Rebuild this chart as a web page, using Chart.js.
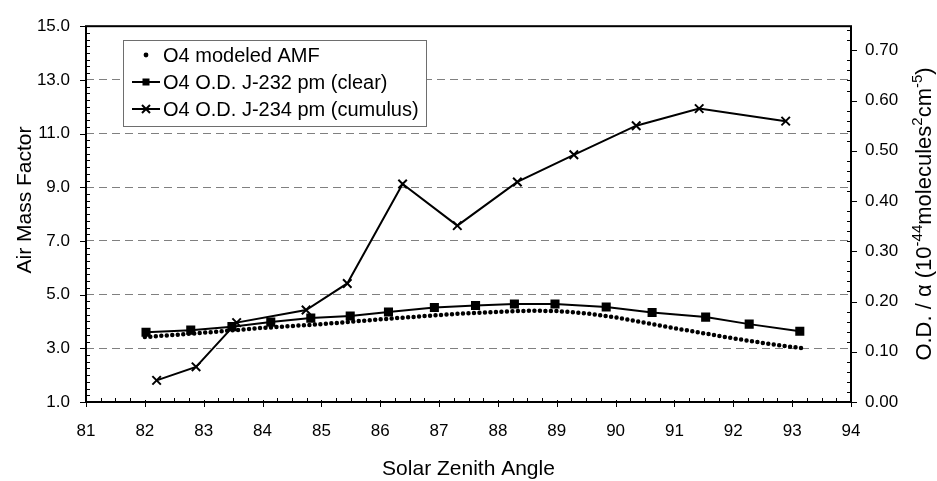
<!DOCTYPE html>
<html>
<head>
<meta charset="utf-8">
<script src="https://cdn.jsdelivr.net/npm/chart.js@4.4.1/dist/chart.umd.min.js"></script>
<style>
  html, body { margin: 0; padding: 0; background: #fff; }
  #wrap { width: 937px; height: 481px; }
</style>
</head>
<body>
<div id="wrap"><canvas id="amfChart" width="937" height="481"></canvas></div>
<script>
/* ===== O4 AMF vs Solar Zenith Angle ===== */

const FONT = "'Liberation Sans', Arial, sans-serif";

// O4 modeled AMF (left axis)
const szaModel = [82.0, 82.5, 83.0, 83.5, 84.0, 84.5, 85.0, 85.5, 86.0, 86.5, 87.0, 87.5,
                  88.0, 88.5, 89.0, 89.5, 90.0, 90.5, 91.0, 91.5, 92.0, 92.5, 93.0, 93.2];
const amfModel = [3.42, 3.50, 3.58, 3.67, 3.76, 3.83, 3.90, 3.99, 4.08, 4.16, 4.24, 4.31,
                  4.36, 4.40, 4.39, 4.30, 4.15, 3.95, 3.75, 3.56, 3.37, 3.20, 3.05, 3.00];

// O4 O.D. J-232 pm (clear), right axis
const szaClear = [82.02, 82.78, 83.48, 84.14, 84.82, 85.49, 86.14, 86.92,
                  87.62, 88.28, 88.97, 89.84, 90.62, 91.53, 92.27, 93.13];
const odClear = [0.139, 0.143, 0.150, 0.159, 0.167, 0.171, 0.179, 0.188,
                 0.192, 0.195, 0.195, 0.189, 0.178, 0.169, 0.155, 0.141];

// O4 O.D. J-234 pm (cumulus), right axis
const szaCumulus = [82.20, 82.87, 83.56, 84.74, 85.44, 86.38, 87.31, 88.33, 89.29, 90.35, 91.42, 92.89];
const odCumulus = [0.043, 0.070, 0.158, 0.183, 0.236, 0.434, 0.351, 0.438, 0.492, 0.550, 0.584, 0.559];

// tick labels
const szaTicks = [81, 82, 83, 84, 85, 86, 87, 88, 89, 90, 91, 92, 93, 94];
const amfTicks = [1, 3, 5, 7, 9, 11, 13, 15];
const odTicks = [0, 0.1, 0.2, 0.3, 0.4, 0.5, 0.6, 0.7];

const legendLabels = ['O4 modeled AMF', 'O4 O.D. J-232 pm (clear)', 'O4 O.D. J-234 pm (cumulus)'];

function pts(xs, ys) {
  return xs.map((x, i) => ({ x: x, y: ys[i] }));
}

function fixTicks(list) {
  return scale => { scale.ticks = list.map(v => ({ value: v })); };
}

// minor / major tick marks and the plot frame
const axisDecor = {
  id: 'axisDecor',
  afterDatasetsDraw(chart) {
    const { ctx, chartArea: a, scales } = chart;
    ctx.save();
    ctx.strokeStyle = '#000';
    ctx.lineWidth = 1;
    ctx.beginPath();
    for (let i = 0; i <= 52; i++) {
      const px = Math.round(scales.x.getPixelForValue(81 + i * 0.25)) + 0.5;
      if (i % 4 === 0) { ctx.moveTo(px, a.bottom - 2); ctx.lineTo(px, a.bottom + 5); }
      else { ctx.moveTo(px, a.bottom - 4); ctx.lineTo(px, a.bottom); }
    }
    for (let i = 0; i <= 56; i++) {
      const py = Math.round(scales.y.getPixelForValue(1 + i * 0.25)) + 0.5;
      if (i % 8 === 0) { ctx.moveTo(a.left - 6, py); ctx.lineTo(a.left, py); }
      else { ctx.moveTo(a.left, py); ctx.lineTo(a.left + 4, py); }
    }
    for (let i = 0; i <= 37; i++) {
      const py = Math.round(scales.y2.getPixelForValue(i * 0.02)) + 0.5;
      if (i % 5 === 0) { ctx.moveTo(a.right, py); ctx.lineTo(a.right + 6, py); }
      else { ctx.moveTo(a.right - 4, py); ctx.lineTo(a.right, py); }
    }
    ctx.stroke();
    ctx.lineWidth = 2;
    ctx.strokeRect(a.left, a.top, a.right - a.left, a.bottom - a.top);
    ctx.restore();
  }
};

// axis titles (right one needs superscripts)
const axisTitles = {
  id: 'axisTitles',
  afterDraw(chart) {
    const { ctx, chartArea: a } = chart;
    ctx.save();
    ctx.fillStyle = '#000';
    ctx.textBaseline = 'alphabetic';

    ctx.font = '21px ' + FONT;
    ctx.textAlign = 'center';
    ctx.fillText('Solar Zenith Angle', (a.left + a.right) / 2, 475);

    ctx.save();
    ctx.translate(31, 200);
    ctx.rotate(-Math.PI / 2);
    ctx.fillText('Air Mass Factor', 0, 0);
    ctx.restore();

    const parts = [
      ['O.D. / \u03b1 (10', false], ['-44', true], ['molecules', false],
      ['2', true], ['cm', false], ['-5', true], [')', false]
    ];
    const big = '22px ' + FONT, small = '15px ' + FONT;
    let total = 0;
    parts.forEach(p => { ctx.font = p[1] ? small : big; total += ctx.measureText(p[0]).width; });
    ctx.translate(931, 214);
    ctx.rotate(-Math.PI / 2);
    ctx.textAlign = 'left';
    let x = -total / 2;
    parts.forEach(p => {
      ctx.font = p[1] ? small : big;
      ctx.fillText(p[0], x, p[1] ? -9 : 0);
      x += ctx.measureText(p[0]).width;
    });
    ctx.restore();
  }
};

// boxed legend inside the plot
const boxLegend = {
  id: 'boxLegend',
  afterDraw(chart) {
    const ctx = chart.ctx;
    const box = { x: 123, y: 40, w: 303, h: 86 };
    ctx.save();
    ctx.fillStyle = '#fff';
    ctx.fillRect(box.x, box.y, box.w, box.h);
    ctx.strokeStyle = '#6e6e6e';
    ctx.lineWidth = 1;
    ctx.strokeRect(box.x + 0.5, box.y + 0.5, box.w, box.h);

    const rows = [55, 82, 109];
    const mx = 146;
    ctx.fillStyle = '#000';
    ctx.strokeStyle = '#000';
    ctx.lineWidth = 2;
    ctx.beginPath();
    ctx.arc(mx, rows[0], 2.4, 0, Math.PI * 2);
    ctx.fill();
    ctx.beginPath();
    ctx.moveTo(132, rows[1]); ctx.lineTo(160, rows[1]);
    ctx.moveTo(132, rows[2]); ctx.lineTo(160, rows[2]);
    ctx.stroke();
    ctx.fillRect(mx - 3.5, rows[1] - 3.5, 7, 7);
    ctx.beginPath();
    ctx.moveTo(mx - 4, rows[2] - 4); ctx.lineTo(mx + 4, rows[2] + 4);
    ctx.moveTo(mx - 4, rows[2] + 4); ctx.lineTo(mx + 4, rows[2] - 4);
    ctx.stroke();

    ctx.font = '20px ' + FONT;
    ctx.textAlign = 'left';
    ctx.textBaseline = 'middle';
    legendLabels.forEach((t, i) => ctx.fillText(t, 163, rows[i] + 1));
    ctx.restore();
  }
};

const tickFont = { family: FONT, size: 17 };

new Chart(document.getElementById('amfChart'), {
  type: 'line',
  data: {
    datasets: [
      {
        label: legendLabels[0],
        data: pts(szaModel, amfModel),
        yAxisID: 'y',
        borderColor: '#000',
        borderWidth: 4.5,
        borderDash: [0, 5.5],
        borderCapStyle: 'round',
        pointRadius: 0
      },
      {
        label: legendLabels[1],
        data: pts(szaClear, odClear),
        yAxisID: 'y2',
        borderColor: '#000',
        borderWidth: 2,
        pointStyle: 'rect',
        pointRadius: 5,
        pointBackgroundColor: '#000',
        pointBorderColor: '#000'
      },
      {
        label: legendLabels[2],
        data: pts(szaCumulus, odCumulus),
        yAxisID: 'y2',
        borderColor: '#000',
        borderWidth: 2,
        pointStyle: 'crossRot',
        pointRadius: 6,
        pointBorderWidth: 2,
        pointBorderColor: '#000'
      }
    ]
  },
  options: {
    responsive: false,
    animation: false,
    layout: { padding: { top: 22, left: 0, right: 0, bottom: 0 } },
    plugins: { legend: { display: false }, tooltip: { enabled: false } },
    scales: {
      x: {
        type: 'linear', min: 81, max: 94,
        afterBuildTicks: fixTicks(szaTicks),
        afterFit: s => { s.height = 79; },
        grid: { display: false, drawTicks: false },
        border: { display: false },
        ticks: { color: '#000', font: tickFont, padding: 19, callback: v => String(v) }
      },
      y: {
        position: 'left', min: 1, max: 15,
        afterBuildTicks: fixTicks(amfTicks),
        afterFit: s => { s.width = 86; },
        grid: {
          drawTicks: false,
          lineWidth: 1,
          color: c => (c.tick && (c.tick.value === 1 || c.tick.value === 15)) ? 'rgba(0,0,0,0)' : '#808080'
        },
        border: { display: false, dash: [8, 5] },
        ticks: { color: '#000', font: tickFont, padding: 16, callback: v => v.toFixed(1) }
      },
      y2: {
        position: 'right', min: 0, max: 0.748,
        afterBuildTicks: fixTicks(odTicks),
        afterFit: s => { s.width = 86; },
        grid: { display: false, drawTicks: false },
        border: { display: false },
        ticks: { color: '#000', font: tickFont, padding: 14, callback: v => v.toFixed(2) }
      }
    }
  },
  plugins: [axisDecor, axisTitles, boxLegend]
});
</script>
</body>
</html>
